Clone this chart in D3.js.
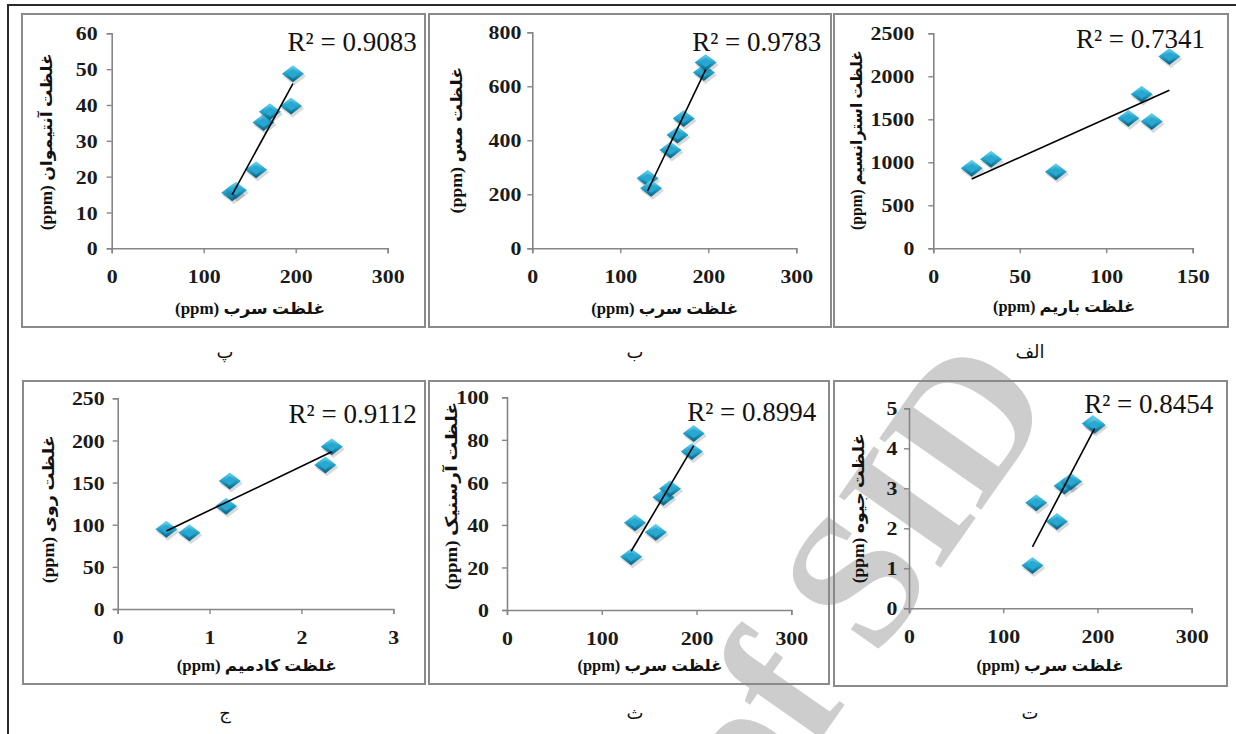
<!DOCTYPE html>
<html><head><meta charset="utf-8">
<script src="https://cdn.jsdelivr.net/npm/d3@7"></script>
<style>
html,body{margin:0;padding:0;background:#fff;}
svg{display:block;}
</style></head><body>
<svg id="c" width="1236" height="734"></svg>
<script>
// ---------------- DATA ----------------
const pb = [131, 135, 157, 165, 172, 195, 197];          // Lead (ppm)
const sb = [15.5, 16.2, 21.9, 35.1, 38.1, 39.7, 48.7];   // Antimony
const cu = [259, 222, 364, 420, 481, 651, 688];           // Copper
const ba = [22.2, 33.4, 70.9, 112.8, 120.5, 126.3, 136.5];// Barium
const sr = [930, 1035, 891, 1512, 1791, 1473, 2229];      // Strontium
const cd = [0.53, 0.78, 1.18, 1.22, 2.26, 2.33];          // Cadmium
const zn = [94.5, 90.6, 122, 152, 171, 192.6];            // Zinc
const asn = [25, 41, 36.5, 53, 57, 74.5, 83];             // Arsenic
const hg = [1.07, 2.64, 2.17, 3.06, 3.17, 4.62, 4.58];    // Mercury

const r2Labels = ["R² = 0.9083", "R² = 0.9783", "R² = 0.7341", "R² = 0.9112", "R² = 0.8994", "R² = 0.8454"];
const xTitles = ["غلظت سرب  (ppm)", "غلظت سرب (ppm)", "غلظت باریم (ppm)", "غلظت کادمیم (ppm)", "غلظت سرب (ppm)", "غلظت سرب (ppm)"];
const yTitles = ["غلظت آنتیموان  (ppm)", "غلظت مس (ppm)", "غلظت استرانسیم (ppm)", "غلظت روی (ppm)", "غلظت آرسنیک (ppm)", "غلظت جیوه (ppm)"];
const panelLabels = ["پ", "ب", "الف", "ج", "ث", "ت"];
const xTicks = [[0,100,200,300],[0,100,200,300],[0,50,100,150],[0,1,2,3],[0,100,200,300],[0,100,200,300]];
const yTicks = [[0,10,20,30,40,50,60],[0,200,400,600,800],[0,500,1000,1500,2000,2500],[0,50,100,150,200,250],[0,20,40,60,80,100],[0,1,2,3,4,5]];
const xSeries = [pb, pb, ba, cd, pb, pb];
const ySeries = [sb, cu, sr, zn, asn, hg];
const watermarkText = "of SID";

// ---------------- LAYOUT ----------------
const layout = [
  {box:[22,14,425,327],  px:[111.7,387.7], py:[248.3,33.3], r2:[416.7,41.7], yl:[46.7,141.7,177], xl:[250,308,150], gap:14, lab:[225,352]},
  {box:[429,14,831,327], px:[532.3,796.3], py:[248.3,32.3], r2:[821.3,41.7], yl:[456.3,140,147], xl:[664.7,308.3,147], gap:11, lab:[635,352]},
  {box:[834,14,1228,327],px:[933.3,1192.7],py:[248.3,33.3], r2:[1205,38.3],  yl:[856.7,140,180], xl:[1064,306.7,142], gap:19, lab:[1030,352]},
  {box:[23,381,425,684], px:[117.7,393.3], py:[609,398.3],  r2:[416.7,413.3],yl:[48.3,509.2,148], xl:[256.7,665,160], gap:13, lab:[225,713]},
  {box:[429,381,829,684],px:[507,791.3],   py:[610,397.3],  r2:[816.3,411.7],yl:[451.3,495.8,188],xl:[650,665,145],  gap:18, lab:[635,713]},
  {box:[834,381,1227,686],px:[909,1191.7], py:[608.3,408.3],r2:[1213.3,403.3],yl:[858.3,508.3,150],xl:[1050,665,147],gap:11.5, lab:[1030,713]}
];

const svg = d3.select("#c");
const defs = svg.append("defs");
const gr = defs.append("linearGradient").attr("id","mk").attr("x1",0).attr("y1",0).attr("x2",0).attr("y2",1);
gr.append("stop").attr("offset","0%").attr("stop-color","#6fd4ee");
gr.append("stop").attr("offset","48%").attr("stop-color","#22a4cc");
gr.append("stop").attr("offset","100%").attr("stop-color","#0a5d7d");

// page frame lines
svg.append("line").attr("x1",8).attr("x2",1236).attr("y1",5).attr("y2",5).attr("stroke","#2a2a2a").attr("stroke-width",2);
svg.append("line").attr("x1",8).attr("x2",8).attr("y1",4).attr("y2",734).attr("stroke","#2a2a2a").attr("stroke-width",2);

// watermark
svg.append("text").text(watermarkText)
  .attr("transform","translate(1058,400) rotate(-55)")
  .attr("text-anchor","end")
  .attr("font-family","Liberation Serif")
  .attr("font-weight","bold")
  .attr("font-size",190)
  .attr("fill","#cdcdcd");

const serif = "'Liberation Serif', 'DejaVu Serif', serif";
const titleFont = "'Liberation Serif', 'DejaVu Sans', sans-serif";
const tickScale = 1.15;

const W = 11, H = 8.5;
const diamond = (s) => `M0,${-H*s}L${W*s},0L0,${H*s}L${-W*s},0Z`;

layout.forEach((L, i) => {
  const b = L.box;
  svg.append("rect").attr("x",b[0]).attr("y",b[1]).attr("width",b[2]-b[0]).attr("height",b[3]-b[1])
    .attr("fill","none").attr("stroke","#8a8a8a").attr("stroke-width",2);

  const xt = xTicks[i], yt = yTicks[i];
  const x = d3.scaleLinear().domain([xt[0], xt[xt.length-1]]).range(L.px);
  const y = d3.scaleLinear().domain([yt[0], yt[yt.length-1]]).range(L.py);
  const g = svg.append("g");

  // axes
  const ay = g.append("g").attr("transform",`translate(${L.px[0]},0)`)
    .call(d3.axisLeft(y).tickValues(yt).tickSize(5).tickFormat(d3.format("d")));
  const ax = g.append("g").attr("transform",`translate(0,${L.py[0]})`)
    .call(d3.axisBottom(x).tickValues(xt).tickSize(5).tickFormat(d3.format("d")));
  [ax, ay].forEach(a => {
    a.attr("font-family",serif).attr("font-size",19);
    a.select(".domain").attr("stroke","#868686").attr("stroke-width",1.6);
    a.selectAll(".tick line").attr("stroke","#868686").attr("stroke-width",1.4);
    a.selectAll(".tick text").attr("font-family",serif).attr("font-weight","bold")
      .attr("font-size",19).attr("fill","#1a1a1a");
  });
  ay.selectAll(".tick text").attr("x",-L.gap/tickScale).attr("dy","0.35em")
    .attr("transform",`scale(${tickScale},1)`);
  ax.selectAll(".tick text").attr("y",28).attr("dy","0.35em")
    .attr("transform",`scale(${tickScale},1)`);

  // data points
  const xs = xSeries[i], ys = ySeries[i];
  const pts = xs.map((v,k) => ({x:v, y:ys[k]}));

  // trendline (least squares over the data)
  const mx = d3.mean(xs), my = d3.mean(ys);
  const sxy = d3.sum(pts, p => (p.x-mx)*(p.y-my));
  const sxx = d3.sum(pts, p => (p.x-mx)*(p.x-mx));
  const slope = sxy/sxx, icp = my - slope*mx;
  const [x0, x1] = d3.extent(xs);

  const mk = g.append("g").selectAll("g").data(pts).join("g")
    .attr("transform", d => `translate(${x(d.x)},${y(d.y)})`);
  mk.append("path").attr("d", diamond(1.05)).attr("transform","translate(1.5,2.5)").attr("fill","rgba(0,0,0,0.15)");
  mk.append("path").attr("d", diamond(1)).attr("fill","url(#mk)");
  mk.append("path").attr("d", diamond(0.55)).attr("fill","#28a7d0");

  g.append("line")
    .attr("x1", x(x0)).attr("y1", y(slope*x0+icp))
    .attr("x2", x(x1)).attr("y2", y(slope*x1+icp))
    .attr("stroke","#000").attr("stroke-width",1.6);

  // R² label
  g.append("text").text(r2Labels[i])
    .attr("x",L.r2[0]).attr("y",L.r2[1]).attr("dy","0.35em")
    .attr("text-anchor","end").attr("font-family",serif).attr("font-size",27).attr("fill","#111");

  // axis titles
  g.append("text").text(xTitles[i])
    .attr("x",L.xl[0]).attr("y",L.xl[1]).attr("dy","0.35em")
    .attr("text-anchor","middle").attr("direction","rtl")
    .attr("textLength",L.xl[2]).attr("lengthAdjust","spacingAndGlyphs")
    .attr("font-family",titleFont).attr("font-weight","bold").attr("font-size",16).attr("fill","#111");
  g.append("text").text(yTitles[i])
    .attr("transform",`translate(${L.yl[0]},${L.yl[1]}) rotate(-90)`).attr("dy","0.35em")
    .attr("text-anchor","middle").attr("direction","rtl")
    .attr("textLength",L.yl[2]).attr("lengthAdjust","spacingAndGlyphs")
    .attr("font-family",titleFont).attr("font-weight","bold").attr("font-size",16).attr("fill","#111");

  // panel label
  svg.append("text").text(panelLabels[i])
    .attr("x",L.lab[0]).attr("y",L.lab[1]).attr("dy","0.35em")
    .attr("text-anchor","middle").attr("direction","rtl")
    .attr("font-family","'DejaVu Sans', sans-serif").attr("font-size",18).attr("fill","#111");
});
</script>
</body></html>
